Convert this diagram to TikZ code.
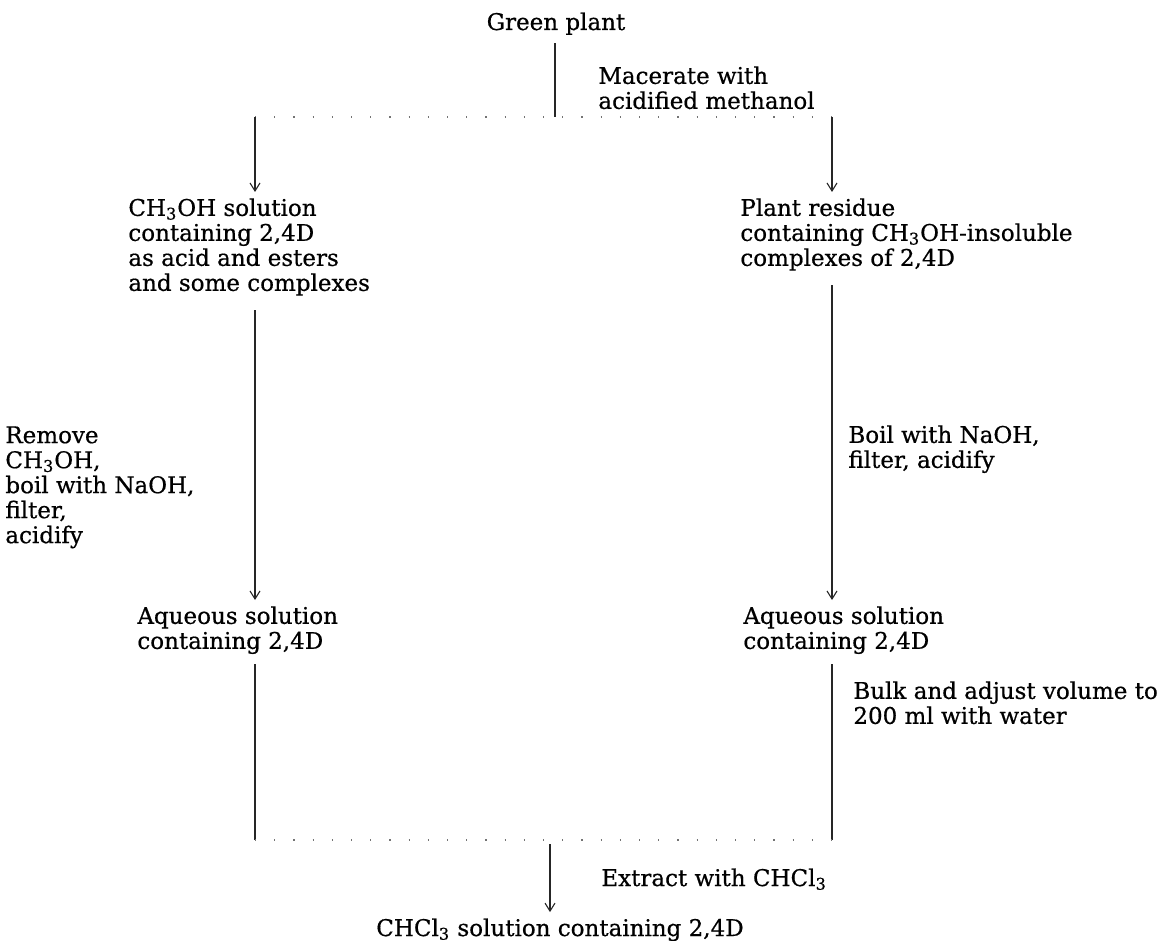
\documentclass[tikz,border=0pt]{standalone}
\usepackage{fontspec}
\setmainfont{DejaVu Serif}[BoldFont=DejaVu Serif, BoldFeatures={FakeBold=0.6}]
\usetikzlibrary{arrows.meta}
\begin{document}
\begin{tikzpicture}[x=0.5pt,y=-0.5pt,
  txt/.style={inner sep=0pt, align=left, font=\fontsize{11.5}{12.5}\selectfont\bfseries},
  vline/.style={line width=0.55pt, draw=black!85},
  hline/.style={line width=0.6pt, draw=black!55, dash pattern=on 0.6pt off 9pt},
  arr/.style={vline, -{Straight Barb[length=4pt,width=5pt]}}]
\useasboundingbox (0,0) rectangle (1161,941);
% coordinates of the branching lines
\coordinate (top) at (555,117);
\coordinate (tl) at (255,117);
\coordinate (tr) at (832,117);
\coordinate (bl) at (255,840);
\coordinate (br) at (832,840);
\coordinate (bc) at (550,840);
% texts
\node[txt, anchor=base] (gp) at (556,30) {Green plant};
\node[txt, anchor=north west] (mac) at (598,66) {Macerate with\\acidified methanol};
\node[txt, anchor=north west] (ch3) at (128,198) {CH\textsubscript{3}OH solution\\containing 2,4D\\as acid and esters\\and some complexes};
\node[txt, anchor=north west] (pr) at (740,198) {Plant residue\\containing CH\textsubscript{3}OH-insoluble\\complexes of 2,4D};
\node[txt, anchor=north west] (rem) at (5,426) {Remove\\CH\textsubscript{3}OH,\\boil with NaOH,\\filter,\\acidify};
\node[txt, anchor=north west] (boil) at (848,425) {Boil with NaOH,\\filter, acidify};
\node[txt, anchor=north west] (aq1) at (137,606) {Aqueous solution\\containing 2,4D};
\node[txt, anchor=north west] (aq2) at (743,606) {Aqueous solution\\containing 2,4D};
\node[txt, anchor=north west] (bulk) at (853,681) {Bulk and adjust volume to\\200 ml with water};
\node[txt, anchor=base west] (ext) at (601,886) {Extract with CHCl\textsubscript{3}};
\node[txt, anchor=base] (fin) at (560,936) {CHCl\textsubscript{3} solution containing 2,4D};
% connectors
\draw[vline, shorten <=4pt] (gp.south -| top) -- (top);
\draw[hline] (tl) -- (tr);
\draw[arr, shorten >=3pt] (tl) -- (tl |- ch3.north);
\draw[arr, shorten >=3pt] (tr) -- (tr |- pr.north);
\draw[arr, shorten <=7pt, shorten >=3pt] (ch3.south -| tl) -- (aq1.north -| tl);
\draw[arr, shorten <=7pt, shorten >=3pt] (pr.south -| tr) -- (aq2.north -| tr);
\draw[vline, shorten <=5pt] (aq1.south -| bl) -- (bl);
\draw[vline, shorten <=5pt] (aq2.south -| br) -- (br);
\draw[hline] (bl) -- (br);
\draw[arr, shorten <=2pt, shorten >=3pt] (bc) -- (bc |- fin.north);
\end{tikzpicture}
\end{document}
